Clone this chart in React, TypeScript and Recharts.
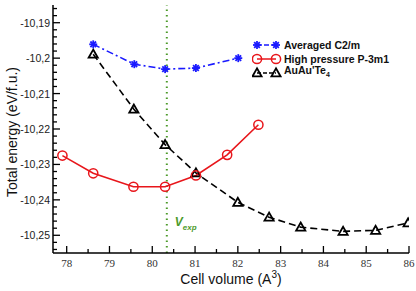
import React from 'react'
import {
  LineChart,
  Line,
  XAxis,
  YAxis,
  ReferenceLine,
  Legend,
} from 'recharts'

const volumesC2m = [78.62, 79.58, 80.3, 81.02, 82.01]
const energiesC2m = [-10.1961, -10.2017, -10.2031, -10.2028, -10.2]

const volumesP3m1 = [77.9, 78.62, 79.56, 80.3, 81.02, 81.75, 82.48]
const energiesP3m1 = [-10.2275, -10.2325, -10.2363, -10.2363, -10.2331, -10.2273, -10.2188]

const volumesAuTe = [78.62, 79.57, 80.3, 81.02, 82.0, 82.73, 83.47, 84.46, 85.22, 85.98]
const energiesAuTe = [
  -10.1989, -10.2144, -10.2244, -10.2324, -10.2407, -10.2449, -10.2477, -10.2489, -10.2486,
  -10.2465,
]

const vExp = 80.34

const xTicks = [78, 78.5, 79, 79.5, 80, 80.5, 81, 81.5, 82, 82.5, 83, 83.5, 84, 84.5, 85, 85.5, 86]
const yTicks = [
  -10.254, -10.252, -10.25, -10.248, -10.246, -10.244, -10.242, -10.24, -10.238, -10.236,
  -10.234, -10.232, -10.23, -10.228, -10.226, -10.224, -10.222, -10.22, -10.218, -10.216,
  -10.214, -10.212, -10.21, -10.208, -10.206, -10.204, -10.202, -10.2, -10.198, -10.196,
  -10.194, -10.192, -10.19, -10.188, -10.186,
]

const zip = (xs: number[], ys: number[]) => xs.map((v, i) => ({ v, e: ys[i] }))
const c2mData = zip(volumesC2m, energiesC2m)
const p3m1Data = zip(volumesP3m1, energiesP3m1)
const auTeData = zip(volumesAuTe, energiesAuTe)

const BLUE = '#1a1aff'
const RED = '#e8161b'
const BLACK = '#000'
const GREEN = '#4c9a2a'
const SANS = '"Liberation Sans", Arial, sans-serif'
const SERIF = '"Liberation Serif", "Times New Roman", serif'

const isMajorX = (v: number) => Math.abs(v - Math.round(v)) < 1e-6
const isMajorY = (v: number) => Math.abs(v * 100 - Math.round(v * 100)) < 1e-6
const fmtY = (v: number) => String(Number(v.toFixed(2))).replace('.', ',')

function Star({ cx, cy, color = BLUE }: any) {
  if (cx == null || cy == null) return null
  const r = 4
  const d = r * 0.707
  return (
    <g stroke={color} strokeWidth={1.8}>
      <line x1={cx - r} y1={cy} x2={cx + r} y2={cy} />
      <line x1={cx} y1={cy - r} x2={cx} y2={cy + r} />
      <line x1={cx - d} y1={cy - d} x2={cx + d} y2={cy + d} />
      <line x1={cx - d} y1={cy + d} x2={cx + d} y2={cy - d} />
    </g>
  )
}

function Ring({ cx, cy }: any) {
  if (cx == null || cy == null) return null
  return <circle cx={cx} cy={cy} r={4.6} fill="none" stroke={RED} strokeWidth={1.5} />
}

function Tri({ cx, cy }: any) {
  if (cx == null || cy == null) return null
  const s = 4.6
  return (
    <polygon
      points={`${cx},${cy - s} ${cx - s},${cy + s * 0.75} ${cx + s},${cy + s * 0.75}`}
      fill="none"
      stroke={BLACK}
      strokeWidth={1.8}
    />
  )
}

function BottomTick({ x, y, payload }: any) {
  const major = isMajorX(payload.value)
  return (
    <g>
      <line x1={x} y1={y} x2={x} y2={y - (major ? 7 : 4)} stroke={BLACK} strokeWidth={1.3} />
      {major && (
        <text x={x} y={y + 14} textAnchor="middle" fontFamily={SERIF} fontSize={11} fill="#333">
          {payload.value}
        </text>
      )}
    </g>
  )
}

function TopTick({ x, y, payload }: any) {
  const major = isMajorX(payload.value)
  return <line x1={x} y1={y} x2={x} y2={y + (major ? 7 : 4)} stroke={BLACK} strokeWidth={1.3} />
}

function LeftTick({ x, y, payload }: any) {
  const major = isMajorY(payload.value)
  return (
    <g>
      <line x1={x} y1={y} x2={x + (major ? 7 : 4)} y2={y} stroke={BLACK} strokeWidth={1.3} />
      {major && (
        <text x={x - 3} y={y + 4} textAnchor="end" fontFamily={SANS} fontSize={10.5} fill="#222">
          {fmtY(payload.value)}
        </text>
      )}
    </g>
  )
}

function RightTick({ x, y, payload }: any) {
  const major = isMajorY(payload.value)
  return <line x1={x} y1={y} x2={x - (major ? 7 : 4)} y2={y} stroke={BLACK} strokeWidth={1.3} />
}

function LegendBox() {
  const rows = [
    { key: 'c2m', label: <>Averaged C2/m</>, color: BLUE, dash: '5 2', Mark: Star },
    { key: 'p3m1', label: <>High pressure P-3m1</>, color: RED, dash: undefined, Mark: Ring },
    {
      key: 'aute',
      label: (
        <>
          AuAu'Te<sub style={{ fontSize: 7 }}>4</sub>
        </>
      ),
      color: BLACK,
      dash: '4 2',
      Mark: Tri,
    },
  ]
  return (
    <div style={{ fontFamily: SANS, fontSize: 10.5, fontWeight: 700, color: '#111' }}>
      {rows.map(({ key, label, color, dash, Mark }) => (
        <div key={key} style={{ display: 'flex', alignItems: 'center', height: 14 }}>
          <svg width={30} height={14}>
            <line x1={5} y1={7} x2={24} y2={7} stroke={color} strokeWidth={1.5} strokeDasharray={dash} />
            <Mark cx={5} cy={7} color={color} />
            <Mark cx={24} cy={7} color={color} />
          </svg>
          <span style={{ marginLeft: 2, lineHeight: '14px' }}>{label}</span>
        </div>
      ))}
    </div>
  )
}

function VExpLabel({ viewBox }: any) {
  if (!viewBox) return null
  const x = viewBox.x + 8
  const y = viewBox.y + viewBox.height - 27
  return (
    <text x={x} y={y} fill={GREEN} fontFamily={SANS} fontWeight={700} fontStyle="italic">
      <tspan fontSize={12}>V</tspan>
      <tspan fontSize={8} dy={4}>
        exp
      </tspan>
    </text>
  )
}

export default function App() {
  return (
    <div style={{ position: 'absolute', left: 0, top: 0, width: 416, height: 291, background: '#fff' }}>
      <LineChart width={416} height={291} margin={{ top: 5, right: 7, left: 0, bottom: 0 }}>
        <XAxis
          dataKey="v"
          type="number"
          domain={[77.68, 86]}
          ticks={xTicks}
          allowDataOverflow
          height={38}
          tickSize={0}
          tickMargin={0}
          tickLine={false}
          axisLine={{ stroke: BLACK, strokeWidth: 1.5 }}
          tick={(p: any) => <BottomTick {...p} />}
          interval={0}
          label={{
            content: ({ viewBox }: any) => (
              <text
                x={viewBox.x + viewBox.width / 2}
                y={viewBox.y + 31}
                textAnchor="middle"
                fontFamily={SANS}
                fontSize={14}
                fill="#111"
              >
                Cell volume (A<tspan dy={-6} fontSize={10}>3</tspan>
                <tspan dy={6}>)</tspan>
              </text>
            ),
          }}
        />
        <XAxis
          xAxisId="top"
          orientation="top"
          dataKey="v"
          type="number"
          domain={[77.68, 86]}
          ticks={xTicks}
          allowDataOverflow
          height={0}
          tickSize={0}
          tickMargin={0}
          tickLine={false}
          interval={0}
          axisLine={{ stroke: BLACK, strokeWidth: 1.5 }}
          tick={(p: any) => <TopTick {...p} />}
        />
        <YAxis
          type="number"
          domain={[-10.255, -10.185]}
          ticks={yTicks}
          allowDataOverflow
          width={53}
          tickSize={0}
          tickMargin={0}
          tickLine={false}
          interval={0}
          axisLine={{ stroke: BLACK, strokeWidth: 1.5 }}
          tick={(p: any) => <LeftTick {...p} />}
          label={{
            content: ({ viewBox }: any) => {
              const cx = viewBox.x + 12
              const cy = viewBox.y + viewBox.height / 2 + 3
              return (
                <text
                  x={cx}
                  y={cy}
                  transform={`rotate(-90 ${cx} ${cy})`}
                  textAnchor="middle"
                  dominantBaseline="central"
                  fontFamily={SANS}
                  fontSize={14}
                  fill="#111"
                >
                  Total energy (eV/f.u.)
                </text>
              )
            },
          }}
        />
        <YAxis
          yAxisId="right"
          orientation="right"
          type="number"
          domain={[-10.255, -10.185]}
          ticks={yTicks}
          allowDataOverflow
          width={0}
          tickSize={0}
          tickMargin={0}
          tickLine={false}
          interval={0}
          axisLine={{ stroke: BLACK, strokeWidth: 1.5 }}
          tick={(p: any) => <RightTick {...p} />}
        />
        <ReferenceLine
          x={vExp}
          stroke={GREEN}
          strokeWidth={2}
          strokeDasharray="1.5 4"
          label={<VExpLabel />}
        />
        <Line
          data={auTeData}
          dataKey="e"
          type="linear"
          stroke={BLACK}
          strokeWidth={1.6}
          strokeDasharray="7 4"
          dot={<Tri />}
          isAnimationActive={false}
        />
        <Line
          data={p3m1Data}
          dataKey="e"
          type="linear"
          stroke={RED}
          strokeWidth={1.6}
          dot={<Ring />}
          isAnimationActive={false}
        />
        <Line
          data={c2mData}
          dataKey="e"
          type="linear"
          stroke={BLUE}
          strokeWidth={1.6}
          strokeDasharray="7 3 2 3"
          dot={<Star />}
          isAnimationActive={false}
        />
        <Legend
          layout="vertical"
          align="center"
          verticalAlign="middle"
          content={() => <LegendBox />}
          wrapperStyle={{ left: 252, top: 38, width: 'auto', height: 'auto' }}
        />
      </LineChart>
    </div>
  )
}
